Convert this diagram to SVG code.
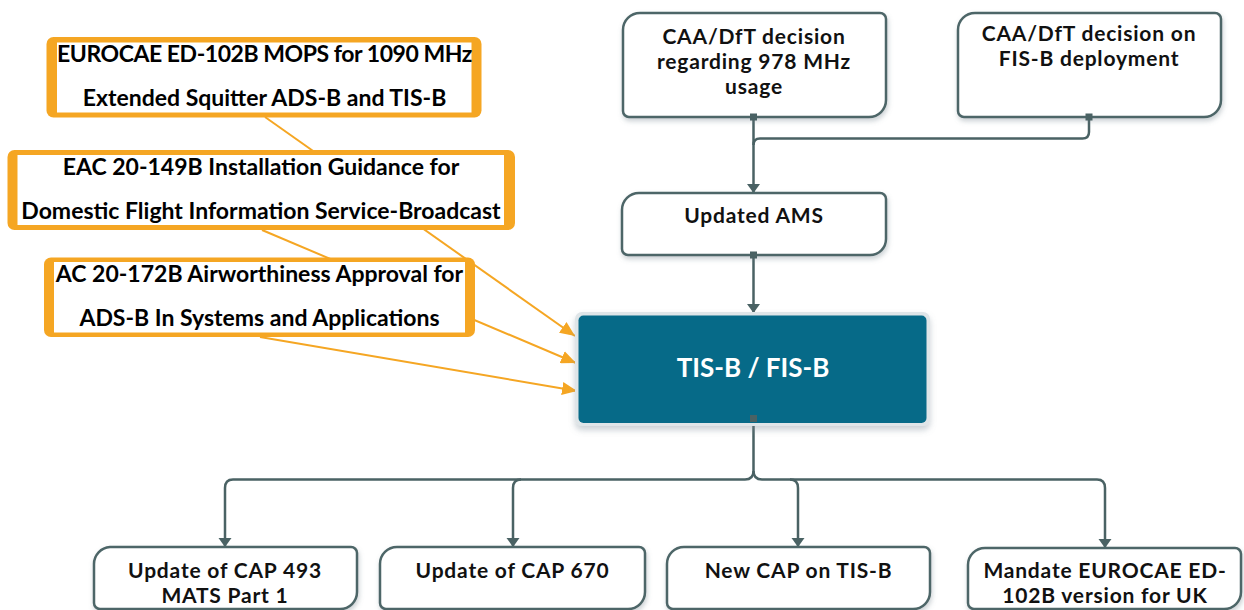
<svg xmlns="http://www.w3.org/2000/svg" width="1244" height="610" viewBox="0 0 1244 610">
<defs>
<style>
.node{fill:#ffffff;stroke:#4e6668;stroke-width:2.5;filter:url(#sh)}
.t{font-family:Lato,"Open Sans","DejaVu Sans",sans-serif;font-weight:700;font-size:21px;letter-spacing:0.8px;fill:#111;text-anchor:middle}
.ot{font-family:Lato,"Open Sans","DejaVu Sans",sans-serif;font-weight:700;font-size:23px;fill:#000;text-anchor:middle}
.main{font-family:Lato,"Open Sans","DejaVu Sans",sans-serif;font-weight:700;font-size:26px;fill:#ffffff;text-anchor:middle}
.ob{fill:#f5a623}
.ow{fill:#ffffff}
.dc{fill:none;stroke:#4a6264;stroke-width:2.5}
.oc{fill:none;stroke:#f5a623;stroke-width:2}
.sq{fill:#4a6264}
</style>
<filter id="sh" x="-10%" y="-20%" width="120%" height="150%">
<feDropShadow dx="1" dy="3" stdDeviation="2.5" flood-color="#6b7d85" flood-opacity="0.35"/>
</filter>
<filter id="sh2" x="-10%" y="-20%" width="120%" height="150%">
<feDropShadow dx="0" dy="4" stdDeviation="3" flood-color="#7a8a96" flood-opacity="0.4"/>
</filter>
<marker id="da" markerUnits="userSpaceOnUse" viewBox="0 0 9 14" refX="9" refY="7" markerWidth="9" markerHeight="14" orient="auto">
<path d="M0,0.5 L9,7 L0,13.5 Z" fill="#4a6264"/>
</marker>
<marker id="oa" markerUnits="userSpaceOnUse" viewBox="0 0 15 13" refX="15" refY="6.5" markerWidth="15" markerHeight="13" orient="auto">
<path d="M0,0 L15,6.5 L0,13 Z" fill="#f5a623"/>
</marker>
</defs>

<g id="connectors">
<path class="oc" d="M265,117 L575,336" marker-end="url(#oa)"/>
<path class="oc" d="M262,230 L576,363" marker-end="url(#oa)"/>
<path class="oc" d="M260,337 L577,391" marker-end="url(#oa)"/>
<path class="dc" d="M753.5,117 V193" marker-end="url(#da)"/>
<path class="dc" d="M1089,117 V132 Q1089,138.5 1082.5,138.5 H760 Q753.5,138.5 753.5,145"/>
<path class="dc" d="M753.5,255 V313" marker-end="url(#da)"/>
<path class="dc" d="M753.5,420 V471 Q753.5,479.5 745,479.5 H233 Q225,479.5 225,488 V547" marker-end="url(#da)"/>
<path class="dc" d="M521,479.5 Q513,479.5 513,488 V547" marker-end="url(#da)"/>
<path class="dc" d="M753.5,471 Q753.5,479.5 762,479.5 H1097 Q1105,479.5 1105,488 V548" marker-end="url(#da)"/>
<path class="dc" d="M790,479.5 Q798,479.5 798,488 V547" marker-end="url(#da)"/>
</g>

<g id="ref-ed102b">
<rect class="ob" x="46.5" y="37" width="435" height="80.5" rx="7"/>
<rect class="ow" x="57" y="42.5" width="414.5" height="70"/>
<text class="ot" x="264.5" y="62" style="letter-spacing:-0.45px">EUROCAE ED-102B MOPS for 1090 MHz</text>
<text class="ot" x="264.5" y="106">Extended Squitter ADS-B and TIS-B</text>
</g>
<g id="ref-eac20149b">
<rect class="ob" x="7.5" y="150" width="507.5" height="80" rx="7"/>
<rect class="ow" x="17.5" y="155" width="486.5" height="70"/>
<text class="ot" x="261" y="175">EAC 20-149B Installation Guidance for</text>
<text class="ot" x="261" y="219">Domestic Flight Information Service-Broadcast</text>
</g>
<g id="ref-ac20172b">
<rect class="ob" x="44" y="257.5" width="431" height="79.5" rx="7"/>
<rect class="ow" x="54" y="262" width="411" height="70.5"/>
<text class="ot" x="259.5" y="282">AC 20-172B Airworthiness Approval for</text>
<text class="ot" x="259.5" y="326">ADS-B In Systems and Applications</text>
</g>

<g id="caa-978">
<path class="node" d="M640,13 H880 A6,6 0 0 1 886,19 V100 A17,17 0 0 1 869,117 H629 A6,6 0 0 1 623,111 V30 A17,17 0 0 1 640,13 Z"/>
<text class="t" x="754" y="44">CAA/DfT decision</text>
<text class="t" x="754" y="69">regarding 978 MHz</text>
<text class="t" x="754" y="94">usage</text>
</g>
<g id="caa-fisb">
<path class="node" d="M975,13 H1215 A6,6 0 0 1 1221,19 V100 A17,17 0 0 1 1204,117 H964 A6,6 0 0 1 958,111 V30 A17,17 0 0 1 975,13 Z"/>
<text class="t" x="1089" y="41">CAA/DfT decision on</text>
<text class="t" x="1089" y="66">FIS-B deployment</text>
</g>
<g id="updated-ams">
<path class="node" d="M639,193 H880 A6,6 0 0 1 886,199 V239 A16,16 0 0 1 870,255 H628 A6,6 0 0 1 622,249 V210 A17,17 0 0 1 639,193 Z"/>
<text class="t" x="754" y="223">Updated AMS</text>
</g>
<g id="tisb-fisb">
<rect x="575" y="312" width="355" height="114" rx="7" fill="#dfe5e8" filter="url(#sh2)"/>
<rect x="578.5" y="315.5" width="348" height="107.5" rx="5" fill="#066a88"/>
<text class="main" x="753" y="377">TIS-B / FIS-B</text>
</g>
<g id="cap493">
<path class="node" d="M110,547 H351 A6,6 0 0 1 357,553 V592 A17,17 0 0 1 340,609 H100 A6,6 0 0 1 94,603 V564 A17,17 0 0 1 110,547 Z"/>
<text class="t" x="225" y="578">Update of CAP 493</text>
<text class="t" x="225" y="603">MATS Part 1</text>
</g>
<g id="cap670">
<path class="node" d="M397,547 H639 A6,6 0 0 1 645,553 V592 A17,17 0 0 1 628,609 H386 A6,6 0 0 1 380,603 V564 A17,17 0 0 1 397,547 Z"/>
<text class="t" x="512.5" y="578">Update of CAP 670</text>
</g>
<g id="new-cap">
<path class="node" d="M684,547 H924 A6,6 0 0 1 930,553 V592 A17,17 0 0 1 913,609 H673 A6,6 0 0 1 667,603 V564 A17,17 0 0 1 684,547 Z"/>
<text class="t" x="798.5" y="578">New CAP on TIS-B</text>
</g>
<g id="mandate">
<path class="node" d="M985,548 H1235 A6,6 0 0 1 1241,554 V592 A17,17 0 0 1 1224,609 H974 A6,6 0 0 1 968,603 V565 A17,17 0 0 1 985,548 Z"/>
<text class="t" x="1105" y="578">Mandate EUROCAE ED-</text>
<text class="t" x="1105" y="603">102B version for UK</text>
</g>

<g id="ports">
<rect class="sq" x="750" y="113.5" width="7" height="7"/>
<rect class="sq" x="1085.5" y="113.5" width="7" height="7"/>
<rect class="sq" x="750" y="251.5" width="7" height="7"/>
<rect class="sq" x="750" y="415" width="7" height="7"/>
</g>
</svg>
